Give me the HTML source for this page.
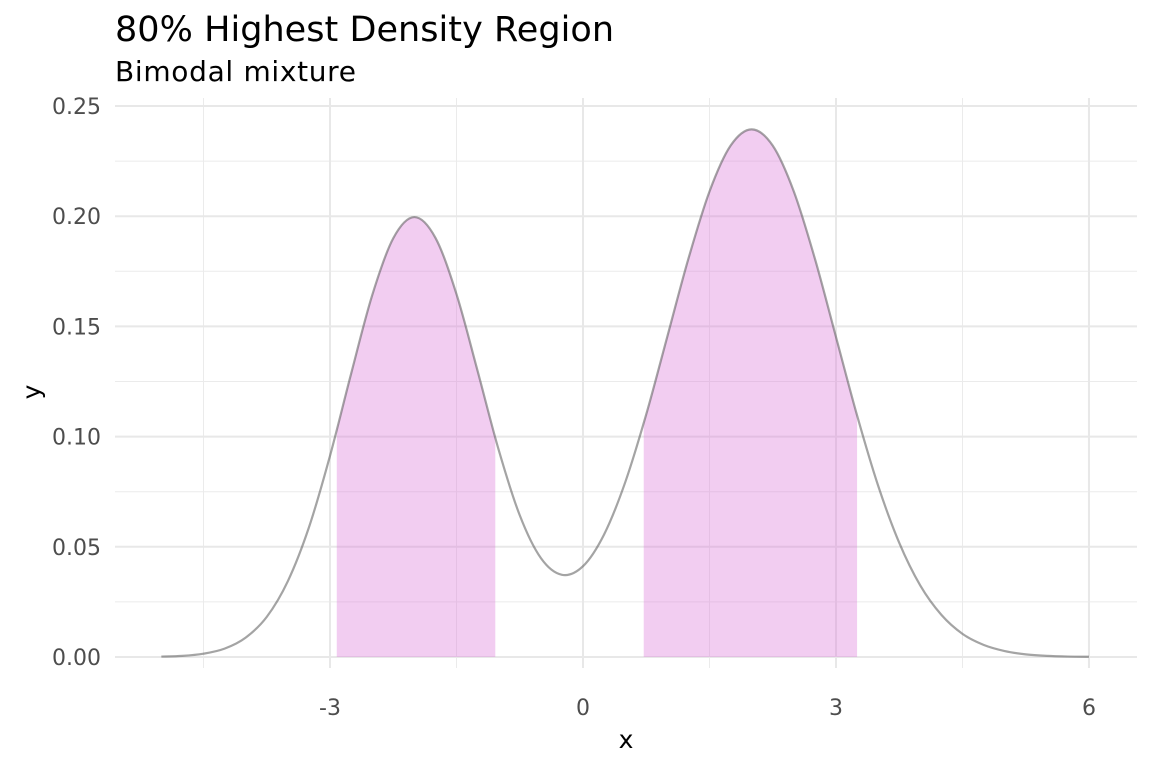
<!DOCTYPE html>
<html><head><meta charset="utf-8"><style>
body{margin:0;background:#fff;font-family:"Liberation Sans","DejaVu Sans",sans-serif;}
svg{display:block}
</style></head><body>
<svg id="chart" width="1152" height="768">
<text x="115" y="41" font-size="35" fill="#000" font-family="DejaVu Sans, sans-serif" textLength="499">80% Highest Density Region</text>
<text x="115" y="81" font-size="28" fill="#000" font-family="DejaVu Sans, sans-serif" textLength="241">Bimodal mixture</text>
<g id="grid"></g>
<g id="marks"></g>
<g id="axes"></g>
<text x="626" y="748" font-size="25" text-anchor="middle" fill="#000" font-family="DejaVu Sans, sans-serif">x</text>
<text transform="translate(40,392) rotate(-90)" font-size="25" text-anchor="middle" fill="#000" font-family="DejaVu Sans, sans-serif">y</text>
</svg>
<script>
const xs = [-5,-4.75,-4.5,-4.25,-4,-3.75,-3.5,-3.25,-3,-2.75,-2.5,-2.25,-2,-1.75,-1.5,-1.25,-1,-0.75,-0.5,-0.25,0,0.25,0.5,0.75,1,1.25,1.5,1.75,2,2.25,2.5,2.75,3,3.25,3.5,3.75,4,4.25,4.5,4.75,5,5.25,5.5,5.75,6];
const ys = [0.0002,0.0005,0.0015,0.0038,0.0088,0.0182,0.0344,0.0588,0.0913,0.1285,0.1641,0.1900,0.1996,0.1902,0.1646,0.1298,0.0940,0.0643,0.0449,0.0373,0.0412,0.0556,0.0792,0.1101,0.1454,0.1807,0.2112,0.2320,0.2394,0.2320,0.2112,0.1807,0.1452,0.1096,0.0777,0.0518,0.0324,0.0191,0.0105,0.0055,0.0027,0.0012,0.0005,0.0002,0.0001];
const hdrIntervals = [[-2.92,-1.04],[0.72,3.25]];
const xTicks = [-3,0,3,6];
const xTickLabels = ["-3","0","3","6"];
const xMinor = [-4.5,-1.5,1.5,4.5];
const yTicks = [0,0.05,0.1,0.15,0.2,0.25];
const yTickLabels = ["0.00","0.05","0.10","0.15","0.20","0.25"];
const yMinor = [0.025,0.075,0.125,0.175,0.225];

const L=115,R=1137,T=98,B=668;
const sx = v => 583 + (v-0)*84.33;
const sy = v => 657 - v*2204;
const NS="http://www.w3.org/2000/svg";
const mk=(t,a)=>{const e=document.createElementNS(NS,t);for(const k in a)e.setAttribute(k,a[k]);return e;};
const grid=document.getElementById('grid'), marks=document.getElementById('marks'), axes=document.getElementById('axes');

xMinor.forEach(v=>{const l=mk('line',{x1:sx(v),x2:sx(v),y1:T,y2:B,stroke:'#ebebeb','stroke-width':1});

grid.appendChild(l);});
yMinor.forEach(v=>{const l=mk('line',{x1:L,x2:R,y1:sy(v),y2:sy(v),stroke:'#ebebeb','stroke-width':1});

grid.appendChild(l);});
xTicks.forEach((v,i)=>{const l=mk('line',{x1:sx(v),x2:sx(v),y1:T,y2:B,stroke:'#e8e8e8','stroke-width':2});

grid.appendChild(l);
const t=mk('text',{x:sx(v),y:715,'font-size':22,'text-anchor':'middle',fill:'#4d4d4d','font-family':'DejaVu Sans, sans-serif'});t.textContent=xTickLabels[i];

axes.appendChild(t);});
yTicks.forEach((v,i)=>{const l=mk('line',{x1:L,x2:R,y1:sy(v),y2:sy(v),stroke:'#e8e8e8','stroke-width':2});

grid.appendChild(l);
const t=mk('text',{x:101,y:sy(v)+8,'font-size':22,'text-anchor':'end',fill:'#4d4d4d','font-family':'DejaVu Sans, sans-serif'});t.textContent=yTickLabels[i];

axes.appendChild(t);});

const P=xs.map((x,i)=>[sx(x),sy(ys[i])]);
let d=`M${P[0][0]},${P[0][1]}`;
for(let i=0;i<P.length-1;i++){const p0=P[Math.max(0,i-1)],p1=P[i],p2=P[i+1],p3=P[Math.min(P.length-1,i+2)];
d+=` C${p1[0]+(p2[0]-p0[0])/6},${p1[1]+(p2[1]-p0[1])/6} ${p2[0]-(p3[0]-p1[0])/6},${p2[1]-(p3[1]-p1[1])/6} ${p2[0]},${p2[1]}`;}
const area=d+` L${P[P.length-1][0]},${sy(0)} L${P[0][0]},${sy(0)} Z`;
const defs=mk('defs',{});document.getElementById('chart').insertBefore(defs,grid);
hdrIntervals.forEach((iv,i)=>{const cp=mk('clipPath',{id:'clip'+i});cp.appendChild(mk('rect',{x:sx(iv[0]),y:0,width:sx(iv[1])-sx(iv[0]),height:768}));defs.appendChild(cp);
const a=mk('path',{d:area,fill:'rgba(218,112,214,0.35)','clip-path':`url(#clip${i})`});

marks.appendChild(a);});
const line=mk('path',{d:d,fill:'none',stroke:'rgba(90,90,90,0.55)','stroke-width':2.2});

marks.appendChild(line);
</script>
</body></html>
